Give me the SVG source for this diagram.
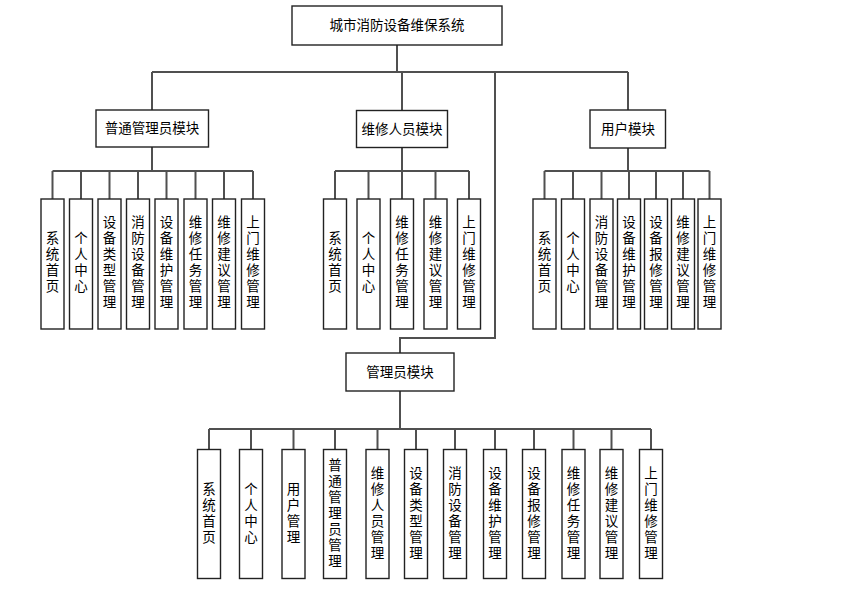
<svg xmlns="http://www.w3.org/2000/svg" width="847" height="600" viewBox="0 0 847 600">
<style>
.b{fill:#fff;stroke:#222;stroke-width:1.4}
.c line,.c path{stroke:#505050;stroke-width:2;fill:none}
text{font-family:"Noto Sans CJK SC","Liberation Sans",sans-serif;font-size:13.5px;fill:#000;text-anchor:middle}
.v{writing-mode:vertical-rl;letter-spacing:2.5px}
</style>
<rect width="847" height="600" fill="#fff"/>
<g class="c" id="connectors">
<line x1="397" y1="45" x2="397" y2="72"/>
<line x1="152" y1="72" x2="628" y2="72"/>
<line x1="152" y1="72" x2="152" y2="110"/>
<line x1="402" y1="72" x2="402" y2="110"/>
<line x1="628" y1="72" x2="628" y2="110"/>
<path d="M495 72V338H400V353"/>
<line x1="152" y1="147" x2="152" y2="171"/>
<line x1="52.5" y1="171" x2="253" y2="171"/>
<path d="M52.5 171V199M81 171V199M109.5 171V199M138 171V199M166.5 171V199M195.5 171V199M224 171V199M253 171V199"/>
<line x1="402" y1="147" x2="402" y2="171"/>
<line x1="335" y1="171" x2="469" y2="171"/>
<path d="M335 171V199M368.5 171V199M402 171V199M435.5 171V199M469 171V199"/>
<line x1="628" y1="148" x2="628" y2="171"/>
<line x1="544.5" y1="171" x2="709.5" y2="171"/>
<path d="M544.5 171V199M573 171V199M601.5 171V199M629 171V199M656 171V199M683 171V199M709.5 171V199"/>
<line x1="400" y1="391" x2="400" y2="429"/>
<line x1="209" y1="429" x2="651" y2="429"/>
<path d="M209 429V449.5M251 429V449.5M293.5 429V449.5M335 429V449.5M377.5 429V449.5M416 429V449.5M455 429V449.5M495 429V449.5M534 429V449.5M573.5 429V449.5M611.5 429V449.5M651 429V449.5"/>
</g>
<g id="root"><rect class="b" x="292" y="6" width="210" height="39"/><text x="397" y="30">城市消防设备维保系统</text></g>
<g id="m1"><rect class="b" x="96" y="110" width="112.5" height="37"/><text x="152" y="133">普通管理员模块</text></g>
<g id="m2"><rect class="b" x="356.5" y="110.5" width="91" height="37"/><text x="402" y="133.5">维修人员模块</text></g>
<g id="m3"><rect class="b" x="590" y="110" width="75.5" height="38"/><text x="628" y="133.5">用户模块</text></g>
<g id="m4"><rect class="b" x="346" y="353" width="108" height="38"/><text x="400" y="376.5">管理员模块</text></g>

<g id="a1"><rect class="b" x="41" y="199" width="23" height="130"/><text class="v" x="52.5" y="263">系统首页</text></g>
<g id="a2"><rect class="b" x="69.5" y="199" width="23" height="130"/><text class="v" x="81" y="263">个人中心</text></g>
<g id="a3"><rect class="b" x="98" y="199" width="23" height="130"/><text class="v" x="109.5" y="263">设备类型管理</text></g>
<g id="a4"><rect class="b" x="126.5" y="199" width="23" height="130"/><text class="v" x="138" y="263">消防设备管理</text></g>
<g id="a5"><rect class="b" x="155" y="199" width="23" height="130"/><text class="v" x="166.5" y="263">设备维护管理</text></g>
<g id="a6"><rect class="b" x="184" y="199" width="23" height="130"/><text class="v" x="195.5" y="263">维修任务管理</text></g>
<g id="a7"><rect class="b" x="212.5" y="199" width="23" height="130"/><text class="v" x="224" y="263">维修建议管理</text></g>
<g id="a8"><rect class="b" x="241.5" y="199" width="23" height="130"/><text class="v" x="253" y="263">上门维修管理</text></g>

<g id="b1"><rect class="b" x="323.5" y="199" width="23" height="130"/><text class="v" x="335" y="263">系统首页</text></g>
<g id="b2"><rect class="b" x="357" y="199" width="23" height="130"/><text class="v" x="368.5" y="263">个人中心</text></g>
<g id="b3"><rect class="b" x="390.5" y="199" width="23" height="130"/><text class="v" x="402" y="263">维修任务管理</text></g>
<g id="b4"><rect class="b" x="424" y="199" width="23" height="130"/><text class="v" x="435.5" y="263">维修建议管理</text></g>
<g id="b5"><rect class="b" x="457.5" y="199" width="23" height="130"/><text class="v" x="469" y="263">上门维修管理</text></g>

<g id="c1"><rect class="b" x="533" y="199" width="23" height="130"/><text class="v" x="544.5" y="263">系统首页</text></g>
<g id="c2"><rect class="b" x="561.5" y="199" width="23" height="130"/><text class="v" x="573" y="263">个人中心</text></g>
<g id="c3"><rect class="b" x="590" y="199" width="23" height="130"/><text class="v" x="601.5" y="263">消防设备管理</text></g>
<g id="c4"><rect class="b" x="617.5" y="199" width="23" height="130"/><text class="v" x="629" y="263">设备维护管理</text></g>
<g id="c5"><rect class="b" x="644.5" y="199" width="23" height="130"/><text class="v" x="656" y="263">设备报修管理</text></g>
<g id="c6"><rect class="b" x="671.5" y="199" width="23" height="130"/><text class="v" x="683" y="263">维修建议管理</text></g>
<g id="c7"><rect class="b" x="698" y="199" width="23" height="130"/><text class="v" x="709.5" y="263">上门维修管理</text></g>

<g id="d1"><rect class="b" x="197.5" y="449.5" width="23" height="129"/><text class="v" x="209" y="514">系统首页</text></g>
<g id="d2"><rect class="b" x="239.5" y="449.5" width="23" height="129"/><text class="v" x="251" y="514">个人中心</text></g>
<g id="d3"><rect class="b" x="282" y="449.5" width="23" height="129"/><text class="v" x="293.5" y="514">用户管理</text></g>
<g id="d4"><rect class="b" x="323.5" y="449.5" width="23" height="129"/><text class="v" x="335" y="514">普通管理员管理</text></g>
<g id="d5"><rect class="b" x="366" y="449.5" width="23" height="129"/><text class="v" x="377.5" y="514">维修人员管理</text></g>
<g id="d6"><rect class="b" x="404.5" y="449.5" width="23" height="129"/><text class="v" x="416" y="514">设备类型管理</text></g>
<g id="d7"><rect class="b" x="443.5" y="449.5" width="23" height="129"/><text class="v" x="455" y="514">消防设备管理</text></g>
<g id="d8"><rect class="b" x="483.5" y="449.5" width="23" height="129"/><text class="v" x="495" y="514">设备维护管理</text></g>
<g id="d9"><rect class="b" x="522.5" y="449.5" width="23" height="129"/><text class="v" x="534" y="514">设备报修管理</text></g>
<g id="d10"><rect class="b" x="562" y="449.5" width="23" height="129"/><text class="v" x="573.5" y="514">维修任务管理</text></g>
<g id="d11"><rect class="b" x="600" y="449.5" width="23" height="129"/><text class="v" x="611.5" y="514">维修建议管理</text></g>
<g id="d12"><rect class="b" x="639.5" y="449.5" width="23" height="129"/><text class="v" x="651" y="514">上门维修管理</text></g>
</svg>
